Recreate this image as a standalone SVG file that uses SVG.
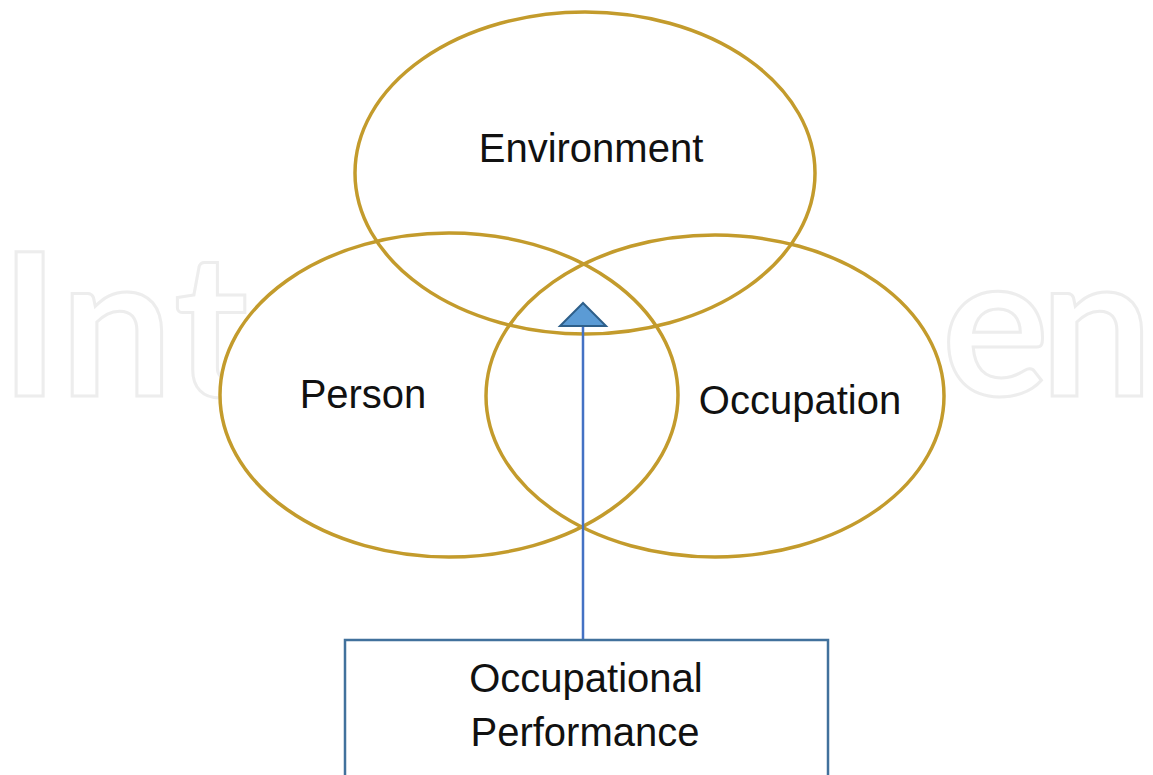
<svg xmlns="http://www.w3.org/2000/svg" width="1153" height="775" viewBox="0 0 1153 775">
<style>
.wm{font-family:Lato,"DejaVu Sans",sans-serif;font-weight:700;font-size:200px;fill:none;stroke:#ededed;stroke-width:3}
.ring{fill:none;stroke:#C39B2C;stroke-width:3.5}
.lbl{font-family:"Liberation Sans",Arial,sans-serif;font-size:40px;fill:#111;text-anchor:middle}
</style>
<rect width="1153" height="775" fill="#fff"/>
<g id="watermark">
<text class="wm" x="0" y="396">I</text>
<text class="wm" x="60" y="396">n</text>
<text class="wm" x="174" y="396">t</text>
<text class="wm" x="942" y="396">e</text>
<text class="wm" x="1040" y="396">n</text>
<ellipse cx="449" cy="395" rx="229" ry="162" fill="#fff"/>
<ellipse cx="715" cy="396" rx="229" ry="161" fill="#fff"/>
</g>
<g id="environment">
<ellipse class="ring" cx="585" cy="173" rx="230" ry="161"/>
<text class="lbl" x="591" y="162">Environment</text>
</g>
<g id="person">
<ellipse class="ring" cx="449" cy="395" rx="229" ry="162"/>
<text class="lbl" x="363" y="408">Person</text>
</g>
<g id="occupation">
<ellipse class="ring" cx="715" cy="396" rx="229" ry="161"/>
<text class="lbl" x="800" y="414">Occupation</text>
</g>
<g id="connectors">
<line x1="583" y1="640" x2="583" y2="326" stroke="#4472C4" stroke-width="2.5"/>
<polygon points="583,303 560,326 606,326" fill="#5B9BD5" stroke="#2E5F8A" stroke-width="2"/>
</g>
<g id="performance">
<rect x="345" y="640" width="483" height="150" fill="#fff" stroke="#41719C" stroke-width="2.5"/>
<text class="lbl" x="586" y="692">Occupational</text>
<text class="lbl" x="585" y="746">Performance</text>
</g>
</svg>
